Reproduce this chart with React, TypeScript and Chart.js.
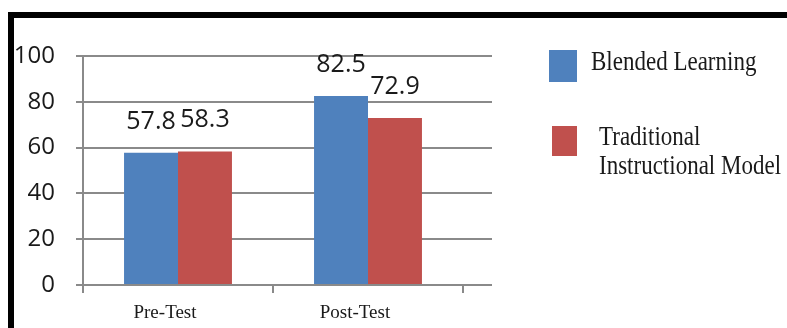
import React, { useEffect, useRef } from "react";
import { Chart, registerables } from "chart.js";

Chart.register(...registerables);

// Test phases on the category axis
const phases = ["Pre-Test", "Post-Test"];

// Mean scores per group
const blendedScores = [57.8, 82.5];
const traditionalScores = [58.3, 72.9];

const seriesNames = ["Blended Learning", "Traditional Instructional Model"];

// Value axis range
const yMin = 0;
const yMax = 100;
const yStep = 20;

const BLUE = "#4f81bd";
const RED = "#c0504d";
const GRID = "#8a8a8a";
const TEXT = "#1a1a1a";

// Value labels drawn above each bar
const valueLabels = {
  id: "valueLabels",
  afterDatasetsDraw(chart: any) {
    const ctx = chart.ctx;
    ctx.save();
    ctx.font = "25px 'Open Sans'";
    ctx.fillStyle = TEXT;
    ctx.textAlign = "center";
    ctx.textBaseline = "alphabetic";
    chart.data.datasets.forEach((ds: any, di: number) => {
      const meta = chart.getDatasetMeta(di);
      meta.data.forEach((bar: any, i: number) => {
        const v = ds.data[i] as number;
        ctx.fillText(v.toFixed(1), bar.x, bar.y - 24);
      });
    });
    ctx.restore();
  },
};

// Horizontal gridlines run a little past the last category boundary
const gridExtension = {
  id: "gridExtension",
  beforeDatasetsDraw(chart: any) {
    const ctx = chart.ctx;
    const area = chart.chartArea;
    const y = chart.scales.y;
    ctx.save();
    ctx.strokeStyle = GRID;
    ctx.lineWidth = 2;
    y.ticks.forEach((t: any) => {
      const py = Math.round(y.getPixelForValue(t.value));
      ctx.beginPath();
      ctx.moveTo(area.right, py);
      ctx.lineTo(area.right + 29, py);
      ctx.stroke();
    });
    ctx.restore();
  },
};

export default function App() {
  const canvasRef = useRef<HTMLCanvasElement>(null);

  useEffect(() => {
    if (!canvasRef.current) return;
    const chart = new Chart(canvasRef.current, {
      type: "bar",
      data: {
        labels: phases,
        datasets: [
          {
            label: seriesNames[0],
            data: blendedScores,
            backgroundColor: BLUE,
            categoryPercentage: 0.568,
            barPercentage: 1,
          },
          {
            label: seriesNames[1],
            data: traditionalScores,
            backgroundColor: RED,
            categoryPercentage: 0.568,
            barPercentage: 1,
          },
        ],
      },
      options: {
        responsive: false,
        animation: false,
        layout: { padding: { left: 0, top: 56, right: 324, bottom: 0 } },
        plugins: {
          legend: { display: false },
          tooltip: { enabled: false },
          title: { display: false },
        },
        scales: {
          x: {
            offset: true,
            grid: {
              offset: true,
              drawOnChartArea: false,
              drawTicks: true,
              tickLength: 8,
              color: GRID,
              lineWidth: 2,
            },
            border: { display: true, color: GRID, width: 2 },
            ticks: {
              color: TEXT,
              font: { family: "'Liberation Serif', 'Times New Roman', serif", size: 19 },
              padding: 9,
              labelOffset: -13,
              maxRotation: 0,
            },
            afterFit: (s: any) => {
              s.height = 43;
            },
          },
          y: {
            min: yMin,
            max: yMax,
            ticks: {
              stepSize: yStep,
              color: TEXT,
              font: { family: "'Open Sans'", size: 24 },
              padding: 21,
            },
            grid: {
              color: GRID,
              lineWidth: 2,
              tickLength: 7,
              drawTicks: true,
            },
            border: { display: true, color: GRID, width: 2 },
            afterFit: (s: any) => {
              s.width = 83;
            },
          },
        },
      },
      plugins: [gridExtension, valueLabels],
    });
    return () => chart.destroy();
  }, []);

  const legendText: React.CSSProperties = {
    position: "absolute",
    fontFamily: "'Liberation Serif', 'Times New Roman', serif",
    fontSize: 23,
    color: TEXT,
    lineHeight: "25px",
    whiteSpace: "nowrap",
    transform: "scaleY(1.15)",
    transformOrigin: "left top",
  };

  return (
    <div style={{ position: "relative", width: 787, height: 328, background: "#fff", overflow: "hidden" }}>
      <style>{`body{margin:0}`}</style>
      <canvas ref={canvasRef} width={787} height={328} style={{ position: "absolute", left: 0, top: 0 }} />
      {/* frame */}
      <div style={{ position: "absolute", left: 8, top: 12, width: 779, height: 6, background: "#000" }} />
      <div style={{ position: "absolute", left: 8, top: 12, width: 6, height: 316, background: "#000" }} />
      {/* legend */}
      <div style={{ position: "absolute", left: 549, top: 50, width: 28, height: 32, background: BLUE }} />
      <div style={{ ...legendText, left: 591, top: 47 }}>Blended Learning</div>
      <div style={{ position: "absolute", left: 552, top: 126, width: 25, height: 30, background: RED }} />
      <div style={{ ...legendText, left: 599, top: 122 }}>
        Traditional
        <br />
        Instructional Model
      </div>
    </div>
  );
}
